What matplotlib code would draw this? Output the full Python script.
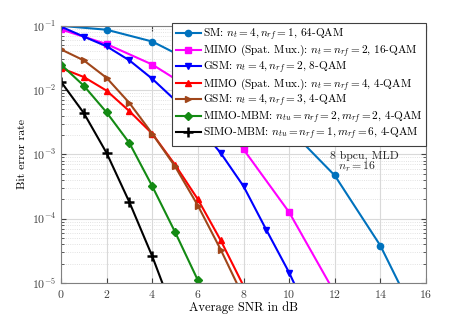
import matplotlib
matplotlib.use('Agg')
import matplotlib.pyplot as plt
import numpy as np

plt.rcParams['font.family'] = 'serif'
plt.rcParams['font.serif'] = ['cmr10', 'DejaVu Serif']
plt.rcParams['mathtext.fontset'] = 'cm'
plt.rcParams['axes.unicode_minus'] = False
plt.rcParams['axes.formatter.use_mathtext'] = True

# SNR grids (dB)
snr_2db = [0, 2, 4, 6, 8, 10, 12, 14, 16]
snr_1db = [0, 1, 2, 3, 4, 5, 6, 7, 8, 9, 10, 11]

# BER
ber_sm = [0.1, 0.087, 0.057, 0.025, 9e-3, 2.5e-3, 4.7e-4, 3.8e-5, 1.4e-6]
ber_mimo16 = [0.088, 0.052, 0.025, 9e-3, 1.2e-3, 1.26e-4, 7e-6]
ber_gsm8 = [0.097, 0.068, 0.048, 0.029, 0.015, 7e-3, 2.8e-3, 1.05e-3, 3.2e-4, 6.7e-5, 1.45e-5, 2.5e-6]
ber_mimo4 = [0.022, 0.016, 0.0098, 0.0047, 0.0021, 6.9e-4, 2e-4, 4.6e-5, 9e-6]
ber_gsm4 = [0.043, 0.029, 0.0155, 0.0063, 0.0021, 6.5e-4, 1.6e-4, 3.3e-5, 6e-6]
ber_mimo_mbm = [0.025, 0.0117, 0.0045, 1.5e-3, 3.2e-4, 6.2e-5, 1.1e-5, 1.5e-6]
ber_simo_mbm = [0.0135, 4.4e-3, 1.05e-3, 1.8e-4, 2.6e-5, 3e-6]

labels = [
    r'SM: $n_t=4, n_{rf}=1$, 64-QAM',
    r'MIMO (Spat. Mux.): $n_t=n_{rf}=2$, 16-QAM',
    r'GSM: $n_t=4, n_{rf}=2$, 8-QAM',
    r'MIMO (Spat. Mux.): $n_t=n_{rf}=4$, 4-QAM',
    r'GSM: $n_t=4, n_{rf}=3$, 4-QAM',
    r'MIMO-MBM: $n_{tu}=n_{rf}=2, m_{rf}=2$, 4-QAM',
    r'SIMO-MBM: $n_{tu}=n_{rf}=1, m_{rf}=6$, 4-QAM',
]

fig = plt.figure(figsize=(4.71, 3.19), dpi=100)
ax = fig.add_axes([0.1295, 0.113, 0.775, 0.806])

lw = 1.5
ms = 4.5
ax.semilogy(snr_2db[:len(ber_sm)], ber_sm, '-o', color='#0072BD', lw=lw, ms=ms, label=labels[0])
ax.semilogy(snr_2db[:len(ber_mimo16)], ber_mimo16, '-s', color='#FF00FF', lw=lw, ms=ms, label=labels[1])
ax.semilogy(snr_1db[:len(ber_gsm8)], ber_gsm8, '-v', color='#0000FF', lw=lw, ms=ms + 0.5, label=labels[2])
ax.semilogy(snr_1db[:len(ber_mimo4)], ber_mimo4, '-^', color='#FF0000', lw=lw, ms=ms + 0.5, label=labels[3])
ax.semilogy(snr_1db[:len(ber_gsm4)], ber_gsm4, '->', color='#A0461A', lw=lw, ms=ms + 0.5, label=labels[4])
ax.semilogy(snr_1db[:len(ber_mimo_mbm)], ber_mimo_mbm, '-D', color='#138A13', lw=lw, ms=ms - 0.5, label=labels[5])
ax.semilogy(snr_1db[:len(ber_simo_mbm)], ber_simo_mbm, '-+', color='black', lw=lw, ms=ms + 2, mew=1.8, label=labels[6])

ax.set_xlim(0, 16)
ax.set_ylim(1e-5, 1e-1)
ax.set_xticks(range(0, 17, 2))
ax.grid(True, which='major', color='#d9d9d9', lw=0.8)
ax.grid(True, which='minor', color='#d9d9d9', lw=0.6, ls=':')
ax.tick_params(which='both', direction='in', top=True, right=True, colors='#404040', labelsize=8.5)
for s in ax.spines.values():
    s.set_color('#808080')
ax.set_xlabel('Average SNR in dB', fontsize=9, labelpad=1)
ax.set_ylabel('Bit error rate', fontsize=8.5, labelpad=3)

ax.text(0.83, 0.495, '8 bpcu, MLD', transform=ax.transAxes, fontsize=8.5, ha='center', va='center', color='#262626')
ax.text(0.81, 0.45, r'$n_r=16$', transform=ax.transAxes, fontsize=8.5, ha='center', va='center', color='#262626')

leg = ax.legend(loc='upper right', fontsize=8.1, handlelength=2.2, labelspacing=0.0,
                borderaxespad=0.0, borderpad=0.3, handletextpad=0.2, fancybox=False,
                framealpha=1, edgecolor='#404040', bbox_to_anchor=(1.0, 1.012))
leg.get_frame().set_linewidth(0.8)

fig.savefig('out.png', dpi=100)
